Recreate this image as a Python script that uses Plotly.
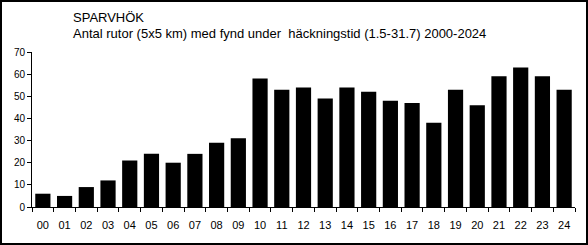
import plotly.graph_objects as go

years = ["00","01","02","03","04","05","06","07","08","09","10","11","12",
         "13","14","15","16","17","18","19","20","21","22","23","24"]
values = [6,5,9,12,21,24,20,24,29,31,58,53,54,49,54,52,48,47,38,53,46,59,63,59,53]
title1 = "SPARVHÖK"
title2 = "Antal rutor (5x5 km) med fynd under  häckningstid (1.5-31.7) 2000-2024"

W, H = 588, 245
L, R, T, B = 32, 13, 52, 38
pw, ph = W - L - R, H - T - B

fig = go.Figure(go.Bar(x=years, y=values, marker=dict(color="black", line=dict(width=0))))

font = "Liberation Sans, Arial, sans-serif"
fig.update_layout(
    width=W, height=H,
    margin=dict(l=L, r=R, t=T, b=B),
    paper_bgcolor="white", plot_bgcolor="white",
    bargap=0.3,
    showlegend=False,
    font=dict(family=font, size=11, color="black"),
    xaxis=dict(type="category", showgrid=False, showline=True, linecolor="black", linewidth=1,
               ticks="outside", tickson="boundaries", ticklen=4, tickcolor="black",
               ticklabelstandoff=8, tickfont=dict(size=11), zeroline=False),
    yaxis=dict(range=[0, 70], dtick=10, showgrid=False, showline=True, linecolor="black",
               linewidth=1, ticks="outside", ticklen=4, tickcolor="black",
               tickfont=dict(size=10), zeroline=False),
    shapes=[dict(type="rect", xref="paper", yref="paper",
                 x0=(-L + 1) / pw, x1=1 + (R - 1) / pw,
                 y0=(-B + 1) / ph, y1=1 + (T - 1) / ph,
                 line=dict(color="black", width=2))],
    annotations=[
        dict(text=title1, xref="paper", yref="paper", x=(71 - L) / pw, y=1 + (T - 17) / ph,
             xanchor="left", yanchor="middle", showarrow=False, font=dict(size=13)),
        dict(text=title2, xref="paper", yref="paper", x=(71 - L) / pw, y=1 + (T - 34) / ph,
             xanchor="left", yanchor="middle", showarrow=False, font=dict(size=13)),
    ],
)
fig.write_html("out.html")
